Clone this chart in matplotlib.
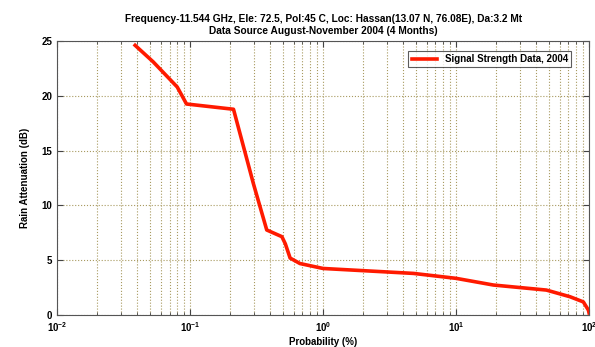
import numpy as np
import matplotlib.pyplot as plt
from matplotlib.ticker import LogLocator, NullFormatter

# exceedance probability (%) vs rain attenuation (dB)
prob = [0.0386, 0.0527, 0.080, 0.094, 0.212, 0.299, 0.377, 0.49, 0.52,
        0.565, 0.67, 1.0, 4.78, 10.0, 19.1, 47.8, 72.0, 90.6, 98.9, 100.0]
atten = [24.6, 23.1, 20.8, 19.25, 18.77, 12.0, 7.76, 7.15, 6.5,
         5.2, 4.7, 4.25, 3.8, 3.35, 2.74, 2.28, 1.67, 1.2, 0.45, 0.2]

title_lines = ["Frequency-11.544 GHz, Ele: 72.5, Pol:45 C, Loc: Hassan(13.07 N, 76.08E), Da:3.2 Mt",
               "Data Source August-November 2004 (4 Months)"]

plt.rcParams['font.family'] = ['Liberation Sans', 'DejaVu Sans']
plt.rcParams['font.weight'] = 'bold'

fig = plt.figure(figsize=(5.95, 3.47), dpi=100)
ax = fig.add_axes([0.096, 0.092, 0.894, 0.79])

ax.semilogx(prob, atten, color='#ff1a00', lw=2.6, label='Signal Strength Data, 2004')

ax.set_xlim(1e-2, 1e2)
ax.set_ylim(0, 25)
ax.set_yticks([0, 5, 10, 15, 20, 25])
ax.xaxis.set_major_locator(LogLocator(base=10, numticks=10))
ax.xaxis.set_minor_locator(LogLocator(base=10, subs=np.arange(2, 10), numticks=20))
ax.xaxis.set_minor_formatter(NullFormatter())

gridc = '#a89a60'
ax.grid(True, which='major', axis='both', color=gridc, ls=':', lw=0.8)
ax.grid(True, which='minor', axis='x', color=gridc, ls=':', lw=0.8)

ax.tick_params(which='both', direction='in', top=True, right=True, labelsize=7, color='#444444')
ax.tick_params(which='major', length=4)
ax.tick_params(which='minor', length=2)
for s in ax.spines.values():
    s.set_color('#555555')
    s.set_linewidth(0.8)

ax.set_xlabel('Probability (%)', fontsize=7, fontweight='bold', labelpad=2)
ax.set_ylabel('Rain Attenuation (dB)', fontsize=7, fontweight='bold', labelpad=8)
ax.set_title('\n'.join(title_lines), fontsize=7.3, fontweight='bold', pad=5, linespacing=1.3)

leg = ax.legend(loc='upper right', fontsize=7, frameon=True, fancybox=False,
                edgecolor='#333333', borderpad=0.35, handlelength=2.6, borderaxespad=0,
                bbox_to_anchor=(0.967, 0.965))
leg.get_frame().set_linewidth(0.8)

fig.savefig('out.png', dpi=100)
